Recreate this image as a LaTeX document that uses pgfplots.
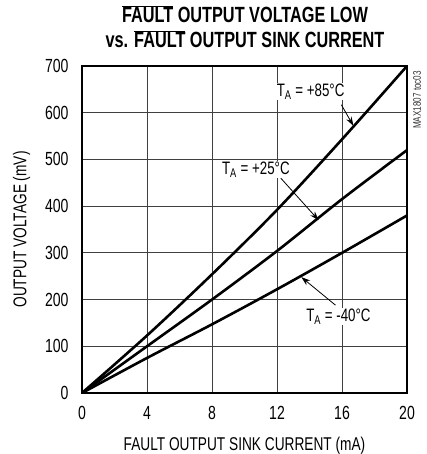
\documentclass[border=0pt]{standalone}
\usepackage{pgfplots}
\pgfplotsset{compat=1.18}
\usetikzlibrary{arrows.meta}
\usepackage{fontspec}
\setmainfont[FakeStretch=0.74]{Liberation Sans}
\begin{document}
\begin{tikzpicture}[x=1pt,y=1pt]
\path[use as bounding box] (0,0) rectangle (426,454);
\node[font=\fontsize{22}{25}\selectfont\bfseries, align=center] at (245,427)
  {$\overline{\mbox{FAULT}}$ OUTPUT VOLTAGE LOW\\vs. $\overline{\mbox{FAULT}}$ OUTPUT SINK CURRENT};
\begin{axis}[
    at={(82pt,61pt)}, anchor=south west,
    scale only axis, width=325pt, height=327pt,
    xmin=0, xmax=20, ymin=0, ymax=700,
    xtick={0,4,...,20}, ytick={0,100,...,700},
    grid=major,
    grid style={line width=0.9pt, black!75},
    axis line style={line width=2pt},
    tick style={draw=none},
    ticklabel style={font=\fontsize{19}{22}\selectfont},
    /pgf/number format/assume math mode=true,
    xticklabel style={yshift=-10pt},
    yticklabel style={xshift=-10pt},
    xlabel={FAULT OUTPUT SINK CURRENT (mA)},
    ylabel={OUTPUT VOLTAGE (mV)},
    label style={font=\fontsize{18.5}{21}\selectfont},
    xlabel style={yshift=-10pt},
    ylabel style={yshift=8pt},
]
% T_A = +85C
\addplot[black, line width=2.6pt, smooth] coordinates {(0,0) (4,123) (8,254) (12,392) (16,543) (20,700)};
% T_A = +25C
\addplot[black, line width=2.6pt, smooth] coordinates {(0,0) (4,100) (8,200) (12,304) (16,415) (20,520)};
% T_A = -40C
\addplot[black, line width=2.6pt, smooth] coordinates {(0,0) (4,75) (8,147) (12,222) (16,300) (20,380)};

\node[fill=white, inner sep=1pt, font=\fontsize{18}{21}\selectfont] at (axis cs:14.07,645) {T\textsubscript{A} = +85°C};
\draw[-{Stealth[length=9pt,width=6pt]}, line width=0.8pt] (axis cs:15.96,617) -- (axis cs:16.7,572);
\node[fill=white, inner sep=1pt, font=\fontsize{18}{21}\selectfont] at (axis cs:10.7,478) {T\textsubscript{A} = +25°C};
\draw[-{Stealth[length=9pt,width=6pt]}, line width=0.8pt] (axis cs:12.23,460) -- (axis cs:14.56,370);
\node[fill=white, inner sep=1pt, font=\fontsize{18}{21}\selectfont] at (axis cs:15.78,163) {T\textsubscript{A} = -40°C};
\draw[-{Stealth[length=9pt,width=6pt]}, line width=0.8pt] (axis cs:15.6,188) -- (axis cs:13.5,248);
\end{axis}
\node[rotate=90, font=\fontsize{11}{13}\selectfont, text=black!80] at (417,354) {MAX1807 toc03};
\end{tikzpicture}
\end{document}
